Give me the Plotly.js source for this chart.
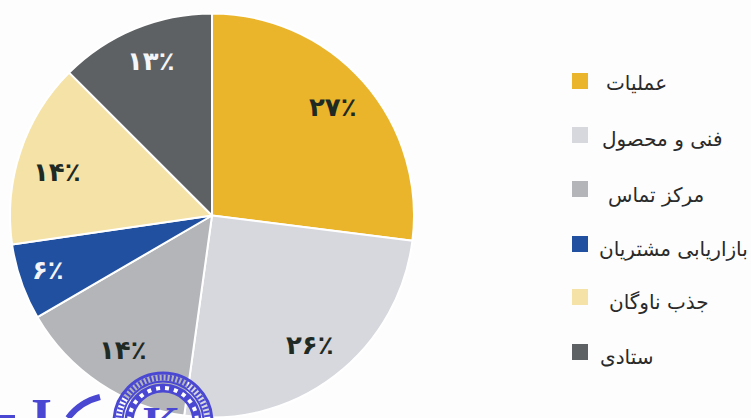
<!DOCTYPE html>
<html><head><meta charset="utf-8">
<script src="https://cdn.plot.ly/plotly-3.0.1.min.js"></script>
<style>html,body{margin:0;padding:0;background:#fdfdfd}</style></head>
<body><div id="chart" style="width:751px;height:418px"></div>
<script>
const categories = ['عملیات','فنی و محصول','مرکز تماس','بازاریابی مشتریان','جذب ناوگان','ستادی'];
const sliceShares = [27, 25.2, 14.4, 6.1, 14.8, 12.5];
const shareLabels = ['۲۷٪','۲۶٪','۱۴٪','۶٪','۱۴٪','۱۳٪'];
const sliceColors = ['#eab52b','#d6d8de','#b3b5b9','#20509f','#f5e2a6','#5e6163'];
const labelColors = ['#1f2a24','#1f2a24','#1f2a24','#f4f5f8','#1f2a24','#f4f5f8'];
const labelX = [333,310,123,48,57,151];
const labelY = [107,345,350,270,172,61];
const legendTextX = [636,662,656,673,659,626];
const legendTextY = [83,139,195,249,302,357];
const swatchY = [81,135,189,244,297,352];
const W = 751, H = 418;
const px = x => x / W, py = y => 1 - y / H;
const FONT = 'DejaVu Sans, Noto Sans, sans-serif';
const STAMP = '#4a48d2';

const annotations = [];
shareLabels.forEach((t,i) => annotations.push({
  xref:'paper', yref:'paper', x:px(labelX[i]), y:py(labelY[i]), text:'<b>'+t+'</b>', showarrow:false,
  xanchor:'center', yanchor:'middle', font:{family:FONT, size:26, color:labelColors[i]}
}));
categories.forEach((t,i) => annotations.push({
  xref:'paper', yref:'paper', x:px(legendTextX[i]), y:py(legendTextY[i]), text:t, showarrow:false,
  xanchor:'center', yanchor:'middle', font:{family:FONT, size:20, color:'#2a2a2a'}
}));
annotations.push({xref:'paper',yref:'paper',x:px(161),y:py(403),text:'<b>K</b>',showarrow:false,
  xanchor:'center',yanchor:'top',yshift:8,font:{family:'Liberation Serif',size:48,color:STAMP}});
annotations.push({xref:'paper',yref:'paper',x:px(41),y:py(397),text:'<b>I</b>',showarrow:false,
  xanchor:'center',yanchor:'top',yshift:11,font:{family:'Liberation Serif',size:54,color:STAMP}});

const shapes = swatchY.map(y => y).map((y,i) => ({
  type:'rect', xref:'paper', yref:'paper', x0:px(572), x1:px(588), y0:py(y-8), y1:py(y+8),
  line:{width:0}, fillcolor:sliceColors[i]
}));
const circ = (r,w,dash) => ({type:'circle',xref:'paper',yref:'paper',
  x0:px(163-r),x1:px(163+r),y0:py(422+r),y1:py(422-r),
  line:{color:STAMP,width:w,dash:dash||'solid'},fillcolor:'rgba(0,0,0,0)'});
shapes.push(circ(49,3));
shapes.push(circ(44.5,6,'2px,2px'));
shapes.push(circ(40.5,2));
shapes.push(circ(34,9));
shapes.push({type:'circle',xref:'paper',yref:'paper',x0:px(163-34),x1:px(163+34),y0:py(422+34),y1:py(422-34),
  line:{color:'#ffffff',width:4,dash:'4px,5px'},fillcolor:'rgba(0,0,0,0)'});
shapes.push({type:'path',xref:'paper',yref:'paper',path:`M ${px(100)} ${py(397)} Q ${px(80)} ${py(402)} ${px(68)} ${py(418)}`,
  line:{color:STAMP,width:6},fillcolor:'rgba(0,0,0,0)'});
shapes.push({type:'line',xref:'paper',yref:'paper',x0:0,x1:px(15),y0:py(416.5),y1:py(416.5),line:{color:STAMP,width:3}});

Plotly.newPlot('chart',[{
  type:'pie', labels:categories, values:sliceShares, sort:false, direction:'clockwise', rotation:0,
  marker:{colors:sliceColors, line:{color:'#ffffff',width:2}},
  textinfo:'none', hoverinfo:'label+percent', showlegend:false,
  domain:{x:[px(10),px(414)], y:[py(418),py(13)]}
}],{
  width:W, height:H, margin:{l:0,r:0,t:0,b:0}, paper_bgcolor:'#fdfdfd', showlegend:false,
  annotations, shapes
},{displayModeBar:false});
</script></body></html>
